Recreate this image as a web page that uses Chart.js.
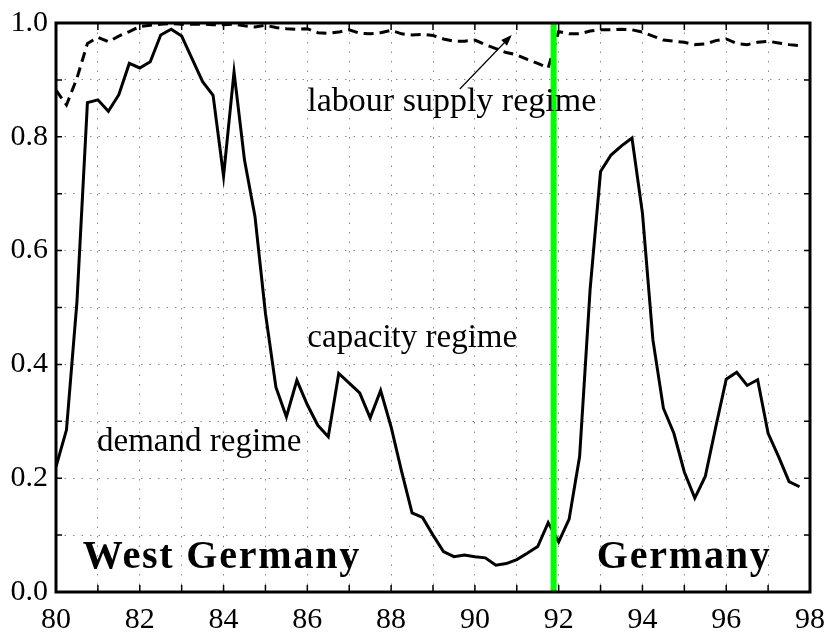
<!DOCTYPE html>
<html>
<head>
<meta charset="utf-8">
<script src="https://cdn.jsdelivr.net/npm/chart.js@4.4.1/dist/chart.umd.min.js"></script>
<style>
html, body { margin: 0; padding: 0; background: #fff; }
</style>
</head>
<body>
<canvas id="mycanvas" width="827" height="632"></canvas>
<script>
// quarterly observations, 1980 to 1997
var years = [
	80, 80.25, 80.5, 80.75, 81, 81.25, 81.5, 81.75, 82, 82.25, 82.5, 82.75,
	83, 83.25, 83.5, 83.75, 84, 84.25, 84.5, 84.75, 85, 85.25, 85.5, 85.75,
	86, 86.25, 86.5, 86.75, 87, 87.25, 87.5, 87.75, 88, 88.25, 88.5, 88.75,
	89, 89.25, 89.5, 89.75, 90, 90.25, 90.5, 90.75, 91, 91.25, 91.5, 91.75,
	92, 92.25, 92.5, 92.75, 93, 93.25, 93.5, 93.75, 94, 94.25, 94.5, 94.75,
	95, 95.25, 95.5, 95.75, 96, 96.25, 96.5, 96.75, 97, 97.25, 97.5, 97.75
];

// solid line
var solidProb = [
	0.22, 0.285, 0.51, 0.86,
	0.865, 0.845, 0.874, 0.929,
	0.921, 0.932, 0.979, 0.989,
	0.977, 0.937, 0.897, 0.873,
	0.731, 0.914, 0.759, 0.66,
	0.49, 0.36, 0.308, 0.372,
	0.329, 0.293, 0.273, 0.384,
	0.367, 0.35, 0.306, 0.354,
	0.29, 0.212, 0.139, 0.131,
	0.1, 0.071, 0.062, 0.065,
	0.062, 0.06, 0.047, 0.05,
	0.057, 0.068, 0.08, 0.122,
	0.088, 0.128, 0.238, 0.531,
	0.739, 0.768, 0.784, 0.798,
	0.666, 0.443, 0.323, 0.279,
	0.211, 0.165, 0.203, 0.29,
	0.374, 0.386, 0.363, 0.373,
	0.279, 0.238, 0.194, 0.185
];

// dashed line
var dashedProb = [
	0.882, 0.856, 0.903, 0.964,
	0.975, 0.967, 0.977, 0.985,
	0.994, 0.996, 0.998, 0.999,
	0.998, 0.998, 0.998, 0.997,
	0.997, 0.998, 0.995, 0.993,
	0.996, 0.992, 0.99, 0.989,
	0.99, 0.983, 0.982, 0.984,
	0.988, 0.982, 0.981, 0.983,
	0.987, 0.981, 0.979, 0.98,
	0.978, 0.972, 0.968, 0.968,
	0.97, 0.962, 0.955, 0.948,
	0.944, 0.936, 0.929, 0.921,
	0.985, 0.981, 0.981, 0.986,
	0.988, 0.988, 0.989, 0.988,
	0.984, 0.977, 0.97, 0.968,
	0.966, 0.962, 0.963, 0.969,
	0.972, 0.964, 0.962, 0.966,
	0.968, 0.965, 0.962, 0.96
];

// reunification marker
var breakYear = [91.88, 91.88];
var breakRange = [0, 1];

var xTickLabels = [80, 82, 84, 86, 88, 90, 92, 94, 96, 98];
var yTickLabels = ['0.0', '0.2', '0.4', '0.6', '0.8', '1.0'];

function toPoints(xs, ys) {
	var pts = [];
	for (var i in xs) {
		pts.push({x: xs[i], y: ys[i]});
	}
	return pts;
}

var serif = "'Liberation Serif'";

var notes = [
	{text: 'labour supply regime', x: 86.0, y: 0.845, font: '34px ' + serif},
	{text: 'capacity regime', x: 86.0, y: 0.431, font: '33px ' + serif},
	{text: 'demand regime', x: 80.98, y: 0.247, font: '33px ' + serif},
	{text: 'West Germany', x: 80.64, y: 0.042, font: 'bold 40px ' + serif, spacing: '1.8px'},
	{text: 'Germany', x: 92.91, y: 0.042, font: 'bold 40px ' + serif, spacing: '1.8px'}
];

var framePlugin = {
	id: 'frame',
	afterDraw: function(chart) {
		var ctx = chart.ctx;
		var a = chart.chartArea;
		var xs = chart.scales.x;
		var ys = chart.scales.y;
		ctx.save();

		// inward tick marks
		ctx.strokeStyle = '#000';
		ctx.lineWidth = 1.5;
		ctx.beginPath();
		xs.ticks.forEach(function(t) {
			var px = xs.getPixelForValue(t.value);
			ctx.moveTo(px, a.bottom); ctx.lineTo(px, a.bottom - 7);
			ctx.moveTo(px, a.top); ctx.lineTo(px, a.top + 7);
		});
		ys.ticks.forEach(function(t) {
			var py = ys.getPixelForValue(t.value);
			ctx.moveTo(a.left, py); ctx.lineTo(a.left + 6, py);
			ctx.moveTo(a.right, py); ctx.lineTo(a.right - 6, py);
		});
		ctx.stroke();

		// frame
		ctx.lineWidth = 3;
		ctx.strokeRect(a.left, a.top, a.right - a.left, a.bottom - a.top);

		// text labels
		ctx.fillStyle = '#000';
		ctx.textBaseline = 'alphabetic';
		ctx.textAlign = 'left';
		notes.forEach(function(n) {
			ctx.font = n.font;
			ctx.letterSpacing = n.spacing || '0px';
			ctx.fillText(n.text, xs.getPixelForValue(n.x), ys.getPixelForValue(n.y));
		});
		ctx.letterSpacing = '0px';

		// arrow to the dashed line
		var x0 = xs.getPixelForValue(89.64), y0 = ys.getPixelForValue(0.884);
		var x1 = xs.getPixelForValue(90.88), y1 = ys.getPixelForValue(0.979);
		var ang = Math.atan2(y1 - y0, x1 - x0);
		ctx.lineWidth = 1.2;
		ctx.beginPath();
		ctx.moveTo(x0, y0);
		ctx.lineTo(x1 - 8 * Math.cos(ang), y1 - 8 * Math.sin(ang));
		ctx.stroke();
		ctx.beginPath();
		ctx.moveTo(x1, y1);
		ctx.lineTo(x1 - 11 * Math.cos(ang) + 4 * Math.sin(ang), y1 - 11 * Math.sin(ang) - 4 * Math.cos(ang));
		ctx.lineTo(x1 - 11 * Math.cos(ang) - 4 * Math.sin(ang), y1 - 11 * Math.sin(ang) + 4 * Math.cos(ang));
		ctx.closePath();
		ctx.fill();

		ctx.restore();
	}
};

var chartdata = {
	datasets: [
		{
			label: 'break',
			data: toPoints(breakYear, breakRange),
			borderColor: '#00ff00',
			borderWidth: 6,
			pointRadius: 0,
			order: 0
		},
		{
			label: 'solid',
			data: toPoints(years, solidProb),
			borderColor: '#000',
			borderWidth: 3,
			pointRadius: 0,
			tension: 0,
			order: 1
		},
		{
			label: 'dashed',
			data: toPoints(years, dashedProb),
			borderColor: '#000',
			borderWidth: 3,
			borderDash: [10, 6],
			pointRadius: 0,
			tension: 0,
			order: 2
		}
	]
};

var ctx = document.getElementById('mycanvas');

var lineGraph = new Chart(ctx, {
	type: 'line',
	data: chartdata,
	plugins: [framePlugin],
	options: {
		responsive: false,
		animation: false,
		events: [],
		layout: {padding: {left: 0, right: 17, top: 23, bottom: 0}},
		plugins: {legend: {display: false}, tooltip: {enabled: false}},
		scales: {
			x: {
				type: 'linear',
				min: 80,
				max: 98,
				afterFit: function(scale) {
					scale.height = 40;
					scale.paddingLeft = 0;
					scale.paddingRight = 0;
				},
				grid: {color: '#8a8a8a', lineWidth: 1, drawTicks: false},
				border: {display: false, dash: [1.5, 8]},
				ticks: {
					stepSize: 1,
					autoSkip: false,
					maxRotation: 0,
					padding: 10,
					color: '#000',
					font: {family: 'Liberation Serif', size: 30},
					callback: function(v) {
						return xTickLabels.indexOf(v) >= 0 ? String(v) : '';
					}
				}
			},
			y: {
				min: 0,
				max: 1,
				afterFit: function(scale) {
					scale.width = 56;
					scale.paddingTop = 0;
					scale.paddingBottom = 0;
				},
				grid: {color: '#8a8a8a', lineWidth: 1, drawTicks: false},
				border: {display: false, dash: [1.5, 7]},
				ticks: {
					stepSize: 0.1,
					autoSkip: false,
					padding: 8,
					color: '#000',
					font: {family: 'Liberation Serif', size: 30},
					callback: function(v) {
						var s = v.toFixed(1);
						return yTickLabels.indexOf(s) >= 0 ? s : '';
					}
				}
			}
		}
	}
});
</script>
</body>
</html>
